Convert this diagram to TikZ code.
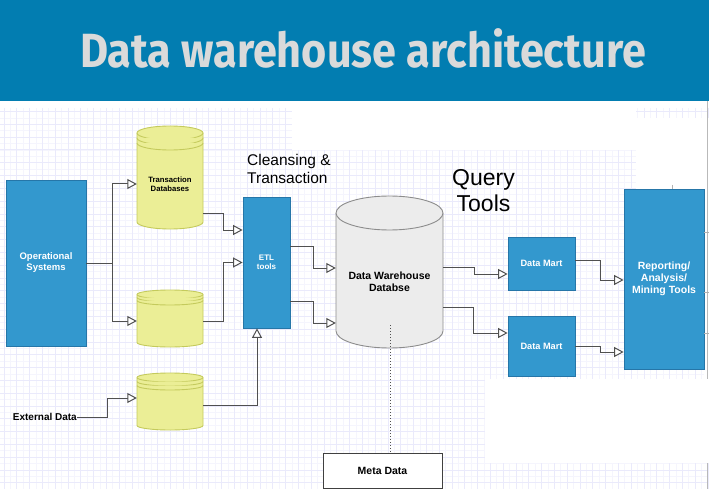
\documentclass[tikz,border=0pt]{standalone}
\usepackage{fontspec}
\setmainfont{Liberation Sans}
\newfontfamily\titlefont{Fira Sans}
\usetikzlibrary{arrows.meta}
\definecolor{band}{RGB}{2,125,177}
\definecolor{titlegray}{RGB}{218,218,218}
\definecolor{boxblue}{RGB}{51,152,206}
\definecolor{boxedge}{RGB}{38,118,168}
\definecolor{dbyellow}{RGB}{235,238,150}
\definecolor{dbedge}{RGB}{196,202,92}
\definecolor{dwgray}{RGB}{236,236,236}
\definecolor{dwedge}{RGB}{140,140,140}
\definecolor{wire}{RGB}{80,80,80}
\definecolor{gridminor}{RGB}{245,245,253}
\definecolor{gridmajor}{RGB}{234,234,251}

\begin{document}
\begin{tikzpicture}[x=1pt, y=-1pt,
  bluebox/.style={draw=boxedge, fill=boxblue, line width=0.8pt, text=white, align=center, inner sep=0pt},
  dbcyl/.style={fill=dbyellow, draw=dbedge, line width=0.9pt},
  dwcyl/.style={fill=dwgray, draw=dwedge, line width=0.9pt},
  dblabel/.style={align=center, inner sep=0pt, font=\bfseries\fontsize{7.7}{9}\selectfont},
  conn/.style={draw=wire, line width=1pt, -{Triangle[open, length=9.5pt, width=10pt, fill=white]}},
  dotline/.style={draw=wire, line width=1pt, dotted}]
\useasboundingbox (0,0) rectangle (709,489);
% grid paper
\foreach \gx in {-2.5,3.9,...,709} \draw[gridminor, line width=0.6pt] (\gx,108) -- (\gx,489);
\foreach \gy in {111.5,117.9,...,489} \draw[gridminor, line width=0.6pt] (0,\gy) -- (709,\gy);
\foreach \gx in {3.9,16.7,...,709} \draw[gridmajor, line width=0.8pt] (\gx,108) -- (\gx,489);
\foreach \gy in {111.5,124.3,...,489} \draw[gridmajor, line width=0.8pt] (0,\gy) -- (709,\gy);
\fill[white] (292,108) rectangle (636,150);
\fill[white] (636,118) rectangle (709,189);
\fill[white] (704,189) rectangle (709,379);
\fill[white] (485,379) rectangle (709,463);
\draw[gray!55, line width=1.2pt] (707.5,101) -- (707.5,379);
\draw[gray!55, line width=1.2pt] (707.5,463) -- (707.5,489);
% title band
\fill[band] (0,0) rectangle (709,101);
\node[anchor=base, inner sep=0pt, text=titlegray, font=\titlefont\bfseries\fontsize{48}{50}\selectfont] (title) at (363,67.5) {\scalebox{0.9}[1]{Data warehouse architecture}};
% sources
\node[bluebox, minimum width=80pt, minimum height=166pt, font=\bfseries\fontsize{9.5}{11}\selectfont] (ops) at (46,263) {Operational\\Systems};
\filldraw[dbcyl] (137,133) -- (137,222) arc[start angle=180, end angle=0, x radius=33, y radius=7] -- (203,133) arc[start angle=0, end angle=-180, x radius=33, y radius=7] -- cycle;
\draw[dbcyl] (137,133) arc[start angle=180, end angle=0, x radius=33, y radius=7];
\draw[dbcyl] (137,138) arc[start angle=180, end angle=0, x radius=33, y radius=7];
\draw[dbcyl] (137,143) arc[start angle=180, end angle=0, x radius=33, y radius=7];
\node[dblabel, minimum width=66pt] (tdb) at (170,184) {Transaction\\Databases};
\filldraw[dbcyl] (137,294.5) -- (137,342.5) arc[start angle=180, end angle=0, x radius=33, y radius=4.5] -- (203,294.5) arc[start angle=0, end angle=-180, x radius=33, y radius=4.5] -- cycle;
\draw[dbcyl] (137,294.5) arc[start angle=180, end angle=0, x radius=33, y radius=4.5];
\draw[dbcyl] (137,297.5) arc[start angle=180, end angle=0, x radius=33, y radius=4.5];
\draw[dbcyl] (137,300.5) arc[start angle=180, end angle=0, x radius=33, y radius=4.5];
\node[dblabel, minimum width=66pt] (mdb) at (170,321) {};
\filldraw[dbcyl] (137,377.5) -- (137,425.5) arc[start angle=180, end angle=0, x radius=33, y radius=4.5] -- (203,377.5) arc[start angle=0, end angle=-180, x radius=33, y radius=4.5] -- cycle;
\draw[dbcyl] (137,377.5) arc[start angle=180, end angle=0, x radius=33, y radius=4.5];
\draw[dbcyl] (137,381.5) arc[start angle=180, end angle=0, x radius=33, y radius=4.5];
\draw[dbcyl] (137,385.5) arc[start angle=180, end angle=0, x radius=33, y radius=4.5];
\node[dblabel, minimum width=66pt] (edb) at (170,398) {};
\node[anchor=east, inner sep=0pt, font=\bfseries\fontsize{10}{12}\selectfont] (ext) at (77,417) {External Data};
% staging
\node[bluebox, minimum width=47pt, minimum height=131pt, font=\bfseries\fontsize{8}{9.5}\selectfont] (etl) at (266.5,262.5) {ETL\\tools};
\node[anchor=north west, align=left, inner sep=0pt, font=\fontsize{15.5}{17.5}\selectfont] (clean) at (247,154.5) {Cleansing \&\\Transaction};
\filldraw[dwcyl] (336,213) -- (336,331) arc[start angle=180, end angle=0, x radius=53.5, y radius=17] -- (443,213) arc[start angle=0, end angle=-180, x radius=53.5, y radius=17] -- cycle;
\draw[dwcyl] (336,213) arc[start angle=180, end angle=0, x radius=53.5, y radius=17];
\node[align=center, inner sep=0pt, minimum width=107pt, font=\bfseries\fontsize{10.5}{12}\selectfont] (dw) at (389.5,282) {Data Warehouse\\Databse};
\node[draw=wire!80!black, fill=white, line width=1pt, minimum width=119pt, minimum height=35pt, inner sep=0pt, font=\bfseries\fontsize{10.5}{12}\selectfont] (meta) at (382.5,471) {Meta Data};
\coordinate (dwtap) at (390,325);
% query side
\node[align=center, inner sep=0pt, anchor=north, font=\fontsize{23}{26}\selectfont] (query) at (483.5,169.5) {Query\\Tools};
\node[bluebox, minimum width=67pt, minimum height=53pt, font=\bfseries\fontsize{9.2}{11}\selectfont] (dm1) at (541.5,263.5) {Data Mart};
\node[bluebox, minimum width=67pt, minimum height=60pt, font=\bfseries\fontsize{9.2}{11}\selectfont] (dm2) at (541.5,346) {Data Mart};
\node[bluebox, minimum width=80pt, minimum height=180pt, font=\bfseries\fontsize{10.5}{11.7}\selectfont] (rep) at (664,279) {Reporting/\\Analysis/\\Mining Tools};
\draw[gray!60, line width=0.8pt] (704,232) -- (709,232);
\draw[gray!60, line width=0.8pt] (704,292) -- (709,292);
\draw[gray!60, line width=0.8pt] (704,333) -- (709,333);
\draw[gray!60, line width=0.8pt] (672,185) -- (672,189);
% connectors
\draw[conn] (ops.east) -- ++(26,0) |- (tdb.west);
\draw[conn] (ops.east) -- ++(26,0) |- (mdb.west);
\draw[conn] ([yshift=-29pt]tdb.east) -- ++(20,0) |- ([yshift=32.5pt]etl.west);
\draw[conn] (mdb.east) -- ++(20,0) |- (etl.west);
\draw[conn] (ext.east) -- ++(30,0) |- (edb.west);
\draw[conn] ([yshift=-7pt]edb.east) -| ([xshift=-9.5pt]etl.south);
\draw[conn] ([yshift=16.5pt]etl.east) -- ++(23,0) |- ([yshift=14pt]dw.west);
\draw[conn] ([yshift=-38.5pt]etl.east) -- ++(23,0) |- ([yshift=-41pt]dw.west);
\draw[conn] ([yshift=15pt]dw.east) -- ++(31,0) |- ([yshift=-10.5pt]dm1.west);
\draw[conn] ([yshift=-25pt]dw.east) -- ++(30,0) |- ([yshift=13pt]dm2.west);
\draw[conn] ([yshift=3.5pt]dm1.east) -- ++(25,0) |- ([yshift=-1pt]rep.west);
\draw[conn] (dm2.east) -- ++(25,0) |- ([yshift=-73pt]rep.west);
\draw[dotline] (dwtap) -- (dwtap |- meta.north);
\end{tikzpicture}
\end{document}
